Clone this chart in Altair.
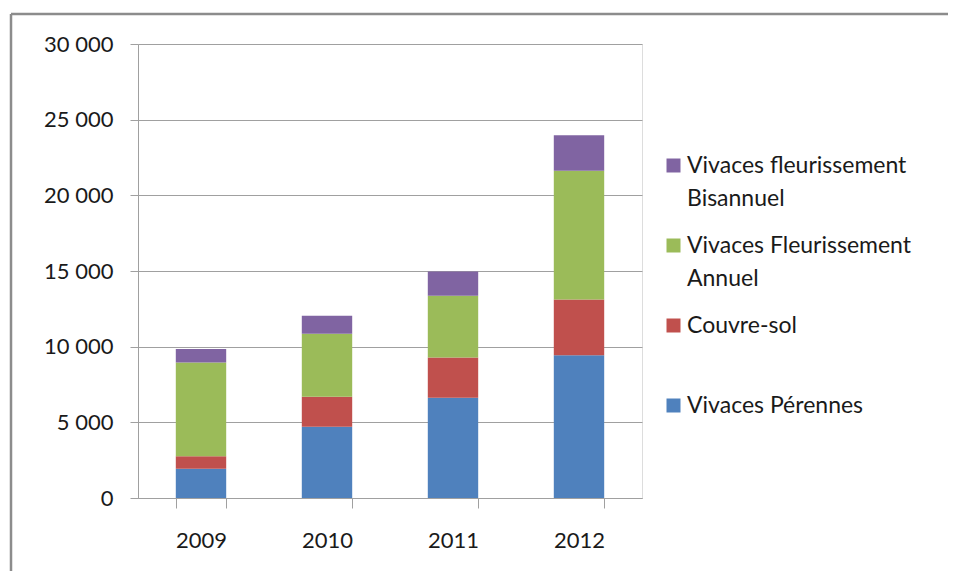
import json
import altair as alt
import pandas as pd

years = ["2009", "2010", "2011", "2012"]
series = ["Vivaces Pérennes", "Couvre-sol", "Vivaces Fleurissement Annuel", "Vivaces fleurissement Bisannuel"]
perennes = [1930, 4700, 6620, 9430]
couvre_sol = [830, 1990, 2660, 3690]
annuel = [6190, 4170, 4080, 8500]
bisannuel = [900, 1180, 1600, 2350]
colors = ["#4F81BD", "#C0504D", "#9BBB59", "#8064A2"]
y_ticks = [0, 5000, 10000, 15000, 20000, 25000, 30000]
legend_lines = {
    "Vivaces fleurissement Bisannuel": ["Vivaces fleurissement", "Bisannuel"],
    "Vivaces Fleurissement Annuel": ["Vivaces Fleurissement", "Annuel"],
    "Couvre-sol": [" Couvre-sol", " "],
    "Vivaces Pérennes": ["Vivaces Pérennes", " "],
}

values = [perennes, couvre_sol, annuel, bisannuel]
rows = []
for si, (name, vals) in enumerate(zip(series, values)):
    for y, v in zip(years, vals):
        rows.append({"year": y, "series": name, "value": v, "idx": si})
df = pd.DataFrame(rows)

label_expr = ""
for k, v in legend_lines.items():
    label_expr += f"datum.label === {json.dumps(k, ensure_ascii=False)} ? {json.dumps(v, ensure_ascii=False)} : "
label_expr += "datum.label"

FONT = "Lato"
GRAY = "#a0a0a0"
TXT = "#1a1a1a"

bars = alt.Chart(df).mark_bar().encode(
    x=alt.X("year:N", sort=years,
            scale=alt.Scale(paddingInner=0.6, paddingOuter=0.3),
            axis=alt.Axis(title=None, labelAngle=0, tickBand="extent", tickSize=10,
                          labelPadding=22, labelFontSize=22, labelFont=FONT, labelColor=TXT,
                          domainColor=GRAY, tickColor=GRAY, grid=False)),
    y=alt.Y("value:Q", stack="zero",
            scale=alt.Scale(domain=[0, 30000], nice=False),
            axis=alt.Axis(title=None, values=y_ticks, tickSize=8, labelPadding=17,
                          labelExpr="replace(format(datum.value, ','), ',', ' ')",
                          labelFontSize=22, labelFont=FONT, labelColor=TXT,
                          domainColor=GRAY, tickColor=GRAY, gridColor=GRAY, grid=True)),
    color=alt.Color("series:N",
                    scale=alt.Scale(domain=series[::-1], range=colors[::-1]),
                    legend=alt.Legend(title=None, orient="none", legendX=524, legendY=110,
                                      symbolType="square", symbolSize=196, symbolStrokeWidth=0,
                                      labelFontSize=23, labelFont=FONT, labelColor=TXT,
                                      labelOffset=2, rowPadding=23, labelLimit=400,
                                      labelBaseline="middle", padding=0,
                                      labelExpr=label_expr)),
    order=alt.Order("idx:Q", sort="ascending"),
)

frame_df = pd.DataFrame({"a": [0]})
frame_left = alt.Chart(frame_df).mark_rule(color="#8c8c8c", strokeWidth=2.5).encode(
    x=alt.value(-127), y=alt.value(-30), y2=alt.value(540))
frame_top = alt.Chart(frame_df).mark_rule(color="#8c8c8c", strokeWidth=2.5).encode(
    x=alt.value(-127), x2=alt.value(810), y=alt.value(-30))

chart = alt.layer(bars, frame_left, frame_top).properties(
    width=504, height=454,
    autosize=alt.AutoSizeParams(type="none"),
    padding={"left": 130, "top": 36, "right": 307, "bottom": 73},
).configure_view(stroke=None).configure(style={"guide-label": {"lineHeight": 33}})

chart.save("out.html", embed_options={"renderer": "svg", "actions": False})
